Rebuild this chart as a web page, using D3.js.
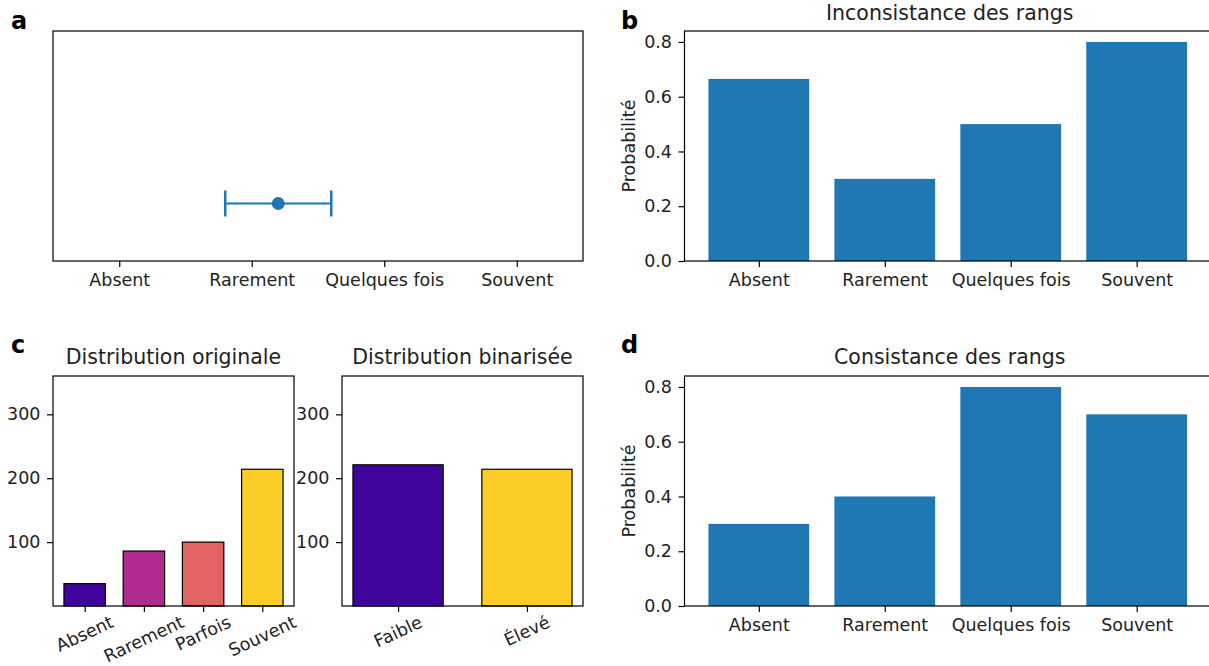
<!DOCTYPE html>
<html>
<head>
<meta charset="utf-8">
<script src="https://cdn.jsdelivr.net/npm/d3@7"></script>
<style>
  body { margin: 0; background: #fff; }
  svg { display: block; font-family: "DejaVu Sans", sans-serif; }
</style>
</head>
<body>
<svg id="canvas"></svg>
<script>
// categories
const levels = ["Absent", "Rarement", "Quelques fois", "Souvent"];
const levelsShort = ["Absent", "Rarement", "Parfois", "Souvent"];
const binLevels = ["Faible", "Élevé"];

// panel a: point estimate with interval
const pointVal = 1.2;
const pointErr = 0.4;

// panel b / d: probabilities
const inconsistProb = [0.665, 0.30, 0.50, 0.80];
const consistProb = [0.30, 0.40, 0.80, 0.70];

// panel c: counts
const origCounts = [35, 86, 100, 214];
const binCounts = [221, 214];
const origColors = ["#41049d", "#b12a90", "#e16462", "#fcce25"];
const binColors = ["#41049d", "#fcce25"];

const probTicks = [0, 0.2, 0.4, 0.6, 0.8];
const countTicks = [100, 200, 300];

let width = 1209;
let height = 666;
const blue = "#1f77b4";
const tickFont = 17.5;
const tickLen = 6;
const tickPad = 6.5;

let canvas = d3.select('#canvas');
canvas.attr('width', width).attr('height', height);

// draws box spines for an axes
let drawFrame = (g, x0, x1, y0, y1) => {
    g.append('rect')
        .attr('x', x0).attr('y', y0)
        .attr('width', x1 - x0).attr('height', y1 - y0)
        .attr('fill', 'none').attr('stroke', '#000').attr('stroke-width', 1.2);
}

let styleAxis = (ax) => {
    ax.select('.domain').remove();
    ax.selectAll('text').attr('font-size', tickFont).attr('fill', '#222')
        .attr('font-family', '"DejaVu Sans", sans-serif');
    ax.selectAll('line').attr('stroke', '#000').attr('stroke-width', 1.2);
}

let panelLabel = (txt, x, y) => {
    canvas.append('text').attr('x', x).attr('y', y)
        .attr('font-size', 24).attr('font-weight', 'bold').attr('fill', '#000')
        .text(txt);
}

let title = (txt, x, y) => {
    canvas.append('text').attr('x', x).attr('y', y)
        .attr('text-anchor', 'middle').attr('font-size', 20.5).attr('fill', '#222')
        .text(txt);
}

// ---- panel a ----
let drawPanelA = () => {
    let x0 = 53, x1 = 583, y0 = 31, y1 = 261;
    let xScale = d3.scaleLinear().domain([-0.5, 3.5]).range([x0, x1]);
    let yScale = d3.scaleLinear().domain([-1, 3]).range([y1, y0]);
    let g = canvas.append('g');

    let xAxis = d3.axisBottom(xScale)
        .tickValues(d3.range(levels.length))
        .tickFormat(i => levels[i])
        .tickSizeOuter(0).tickSize(tickLen).tickPadding(tickPad);
    let ax = g.append('g').attr('transform', 'translate(0,' + y1 + ')').call(xAxis);
    styleAxis(ax);

    let cy = yScale(0);
    let lo = xScale(pointVal - pointErr), hi = xScale(pointVal + pointErr);
    g.append('line').attr('x1', lo).attr('x2', hi).attr('y1', cy).attr('y2', cy)
        .attr('stroke', blue).attr('stroke-width', 2.2);
    [lo, hi].forEach(x => {
        g.append('line').attr('x1', x).attr('x2', x).attr('y1', cy - 13).attr('y2', cy + 13)
            .attr('stroke', blue).attr('stroke-width', 2.5);
    });
    g.append('circle').attr('cx', xScale(pointVal)).attr('cy', cy).attr('r', 6.5).attr('fill', blue);

    drawFrame(g, x0, x1, y0, y1);
}

// ---- probability bar panel (b, d) ----
let drawProbPanel = (vals, y0, y1, ttl, titleY) => {
    let x0 = 684.5, x1 = 1211;
    let xScale = d3.scaleLinear().domain([-0.59, 3.59]).range([x0, x1]);
    let yScale = d3.scaleLinear().domain([0, 0.84]).range([y1, y0]);
    let g = canvas.append('g');

    g.selectAll('rect.bar')
        .data(vals)
        .enter()
        .append('rect')
        .attr('class', 'bar')
        .attr('x', (d, i) => xScale(i - 0.4))
        .attr('width', (d, i) => xScale(i + 0.4) - xScale(i - 0.4))
        .attr('y', d => yScale(d))
        .attr('height', d => yScale(0) - yScale(d))
        .attr('fill', blue);

    let xAxis = d3.axisBottom(xScale)
        .tickValues(d3.range(levels.length))
        .tickFormat(i => levels[i])
        .tickSizeOuter(0).tickSize(tickLen).tickPadding(tickPad);
    let ax = g.append('g').attr('transform', 'translate(0,' + y1 + ')').call(xAxis);
    styleAxis(ax);

    let yAxis = d3.axisLeft(yScale)
        .tickValues(probTicks).tickFormat(d3.format('.1f'))
        .tickSizeOuter(0).tickSize(tickLen).tickPadding(tickPad);
    let ay = g.append('g').attr('transform', 'translate(' + x0 + ',0)').call(yAxis);
    styleAxis(ay);

    g.append('text')
        .attr('transform', 'translate(629,' + ((y0 + y1) / 2) + ') rotate(-90)')
        .attr('text-anchor', 'middle').attr('dominant-baseline', 'central')
        .attr('font-size', tickFont).attr('fill', '#222')
        .text('Probabilité');

    drawFrame(g, x0, x1, y0, y1);
    title(ttl, (x0 + 1209) / 2 + 3, titleY);
}

// ---- count bar panel (c) ----
let drawCountPanel = (vals, cats, colors, x0, x1, dom, ttl) => {
    let y0 = 376, y1 = 606;
    let xScale = d3.scaleLinear().domain(dom).range([x0, x1]);
    let yScale = d3.scaleLinear().domain([0, 360]).range([y1, y0]);
    let g = canvas.append('g');

    g.selectAll('rect.bar')
        .data(vals)
        .enter()
        .append('rect')
        .attr('class', 'bar')
        .attr('x', (d, i) => xScale(i - 0.35))
        .attr('width', (d, i) => xScale(i + 0.35) - xScale(i - 0.35))
        .attr('y', d => yScale(d))
        .attr('height', d => yScale(0) - yScale(d))
        .attr('fill', (d, i) => colors[i])
        .attr('stroke', '#000').attr('stroke-width', 1.2);

    let xAxis = d3.axisBottom(xScale)
        .tickValues(d3.range(cats.length))
        .tickFormat(() => '')
        .tickSizeOuter(0).tickSize(tickLen);
    let ax = g.append('g').attr('transform', 'translate(0,' + y1 + ')').call(xAxis);
    styleAxis(ax);

    // rotated labels, bbox centred under each tick
    let th = 25 * Math.PI / 180;
    cats.forEach((c, i) => {
        let t = g.append('text')
            .attr('text-anchor', 'middle').attr('dominant-baseline', 'central')
            .attr('font-size', tickFont).attr('fill', '#222')
            .text(c);
        let w = t.node().getComputedTextLength();
        let h = tickFont * 1.0;
        let H = w * Math.sin(th) + h * Math.cos(th);
        let cx = xScale(i), cy = y1 + tickLen + 1 + H / 2;
        t.attr('transform', 'translate(' + cx + ',' + cy + ') rotate(-25)');
    });

    let yAxis = d3.axisLeft(yScale)
        .tickValues(countTicks)
        .tickSizeOuter(0).tickSize(tickLen).tickPadding(tickPad);
    let ay = g.append('g').attr('transform', 'translate(' + x0 + ',0)').call(yAxis);
    styleAxis(ay);

    drawFrame(g, x0, x1, y0, y1);
    title(ttl, (x0 + x1) / 2, 364);
}

drawPanelA();
drawProbPanel(inconsistProb, 31, 261, 'Inconsistance des rangs', 20);
drawProbPanel(consistProb, 376, 606, 'Consistance des rangs', 364);
drawCountPanel(origCounts, levelsShort, origColors, 53, 294, [-0.535, 3.535], 'Distribution originale');
drawCountPanel(binCounts, binLevels, binColors, 342, 583, [-0.435, 1.435], 'Distribution binarisée');

panelLabel('a', 11, 29);
panelLabel('b', 621, 29);
panelLabel('c', 11, 353);
panelLabel('d', 621, 353);
</script>
</body>
</html>
